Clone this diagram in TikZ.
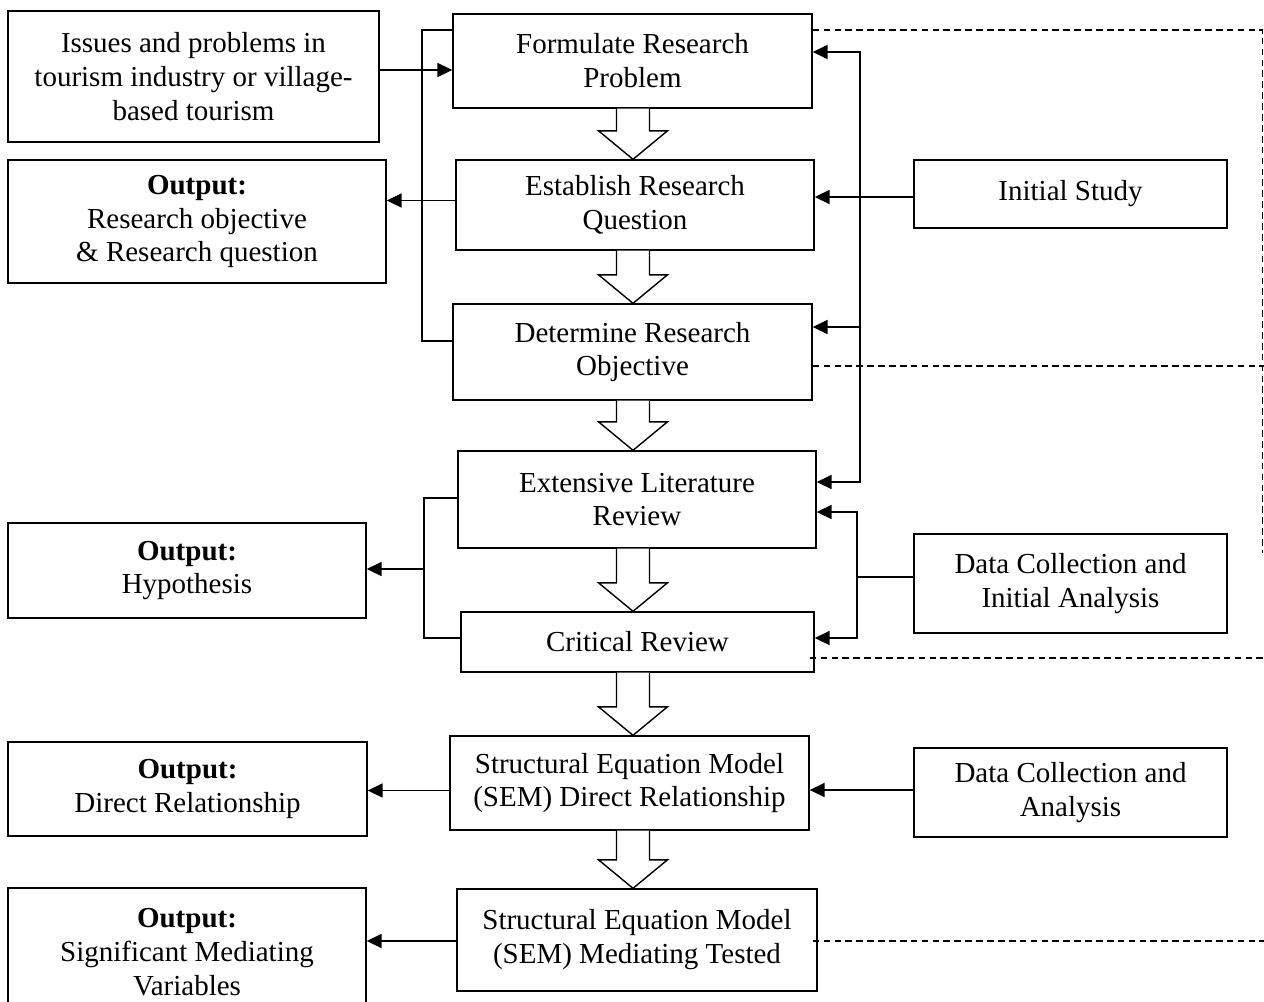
\documentclass[tikz,border=0pt]{standalone}
\usepackage{fontspec}
\setmainfont{Liberation Serif}
\usetikzlibrary{calc,arrows.meta,positioning}
\tikzset{
  box/.style={draw=black, line width=0.8pt, align=center, inner sep=0pt,
    font=\fontsize{16.5}{19.3}\selectfont},
  link/.style={draw=black, line width=0.8pt},
  arr/.style={link, -{Triangle[length=8.5pt,width=8pt]}},
  loop line/.style={draw=black, line width=0.8pt, dash pattern=on 3.8pt off 2.4pt},
  hollow/.style={draw=black, line width=0.8pt, fill=white, line join=miter}
}
\begin{document}
\begin{tikzpicture}
  \useasboundingbox (0,0) rectangle (25.28,-20.02);
  % main column
  \node[box, minimum width=7.18cm, minimum height=1.88cm] (frp) at (12.65,-1.22) {Formulate Research\\Problem};
  \node[box, minimum width=7.16cm, minimum height=1.80cm] (erq) at (12.70,-4.10) {Establish Research\\Question};
  \node[box, minimum width=7.18cm, minimum height=1.92cm] (dro) at (12.65,-7.04) {Determine Research\\Objective};
  \node[box, minimum width=7.16cm, minimum height=1.94cm] (elr) at (12.74,-9.99) {Extensive Literature\\Review};
  \node[box, minimum width=7.06cm, minimum height=1.20cm] (cr) at (12.75,-12.84) {Critical Review};
  \node[box, minimum width=7.18cm, minimum height=1.88cm] (semd) at (12.59,-15.66) {Structural Equation Model\\(SEM) Direct Relationship};
  \node[box, minimum width=7.20cm, minimum height=2.04cm] (semm) at (12.74,-18.80) {Structural Equation Model\\(SEM) Mediating Tested};
  % left column
  \node[box, minimum width=7.42cm, minimum height=2.62cm] (issues) at (3.87,-1.53) {Issues and problems in\\tourism industry or village-\\based tourism};
  \node[box, minimum width=7.56cm, minimum height=2.46cm] (outq) at (3.94,-4.43) {\textbf{Output:}\\Research objective\\\& Research question};
  \node[box, minimum width=7.16cm, minimum height=1.90cm] (outh) at (3.74,-11.41) {\textbf{Output:}\\Hypothesis};
  \node[box, minimum width=7.18cm, minimum height=1.88cm] (outd) at (3.75,-15.78) {\textbf{Output:}\\Direct Relationship};
  \node[box, minimum width=7.16cm, minimum height=2.56cm] (outs) at (3.74,-19.04) {\textbf{Output:}\\Significant Mediating\\Variables};
  % right column
  \node[box, minimum width=6.26cm, minimum height=1.36cm] (init) at (21.41,-3.88) {Initial Study};
  \node[box, minimum width=6.26cm, minimum height=1.98cm] (dcia) at (21.41,-11.67) {Data Collection and\\Initial Analysis};
  \node[box, minimum width=6.26cm, minimum height=1.78cm] (dca) at (21.41,-15.85) {Data Collection and\\Analysis};

  % hollow arrows down the column
  \foreach \a/\b in {frp/erq, erq/dro, dro/elr, elr/cr, cr/semd, semd/semm}{
    \draw[hollow] let \p1=(\a.south), \p2=(\b.north) in
      (12.33cm,\y1) -- (12.33cm,\y2+0.57cm) -- (11.97cm,\y2+0.57cm) -- (12.66cm,\y2)
      -- (13.35cm,\y2+0.57cm) -- (12.99cm,\y2+0.57cm) -- (12.99cm,\y1);
  }

  % left brackets and outputs
  \draw[link] (frp.west |- 0,-0.60) -| (8.44,-6.82) -- (dro.west |- 0,-6.82);
  \draw[arr] (issues.east |- 0,-1.40) -- (frp.west |- 0,-1.40);
  \draw[arr] (erq.west |- 0,-4.01) -- (outq.east |- 0,-4.01);
  \draw[link] (elr.west |- 0,-9.96) -| (8.48,-12.76) -- (cr.west |- 0,-12.76);
  \coordinate (hj) at (8.48,-11.38);
  \draw[arr] (hj) -- (outh.east |- hj);
  \draw[arr] (semd.west |- 0,-15.81) -- (outd.east |- 0,-15.81);
  \draw[arr] (semm.west |- 0,-18.82) -- (outs.east |- 0,-18.82);

  % right feeds
  \coordinate (isj) at (17.20,-3.94);
  \draw[arr] (init.west |- isj) -- (erq.east |- isj);
  \draw[arr] (isj) |- (frp.east |- 0,-1.04);
  \draw[arr] (isj) |- (dro.east |- 0,-6.54);
  \draw[arr] (isj) |- (elr.east |- 0,-9.64);
  \coordinate (daj) at (17.14,-11.54);
  \draw[link] (dcia.west |- daj) -- (daj);
  \draw[arr] (daj) |- (elr.east |- 0,-10.24);
  \draw[arr] (daj) |- (cr.east |- 0,-12.76);
  \draw[arr] (dca.west |- 0,-15.80) -- (semd.east |- 0,-15.80);

  % dashed return lines
  \draw[loop line] (frp.east |- 0,-0.60) -- (25.25,-0.60) -- (25.25,-11.06);
  \draw[loop line] (dro.east |- 0,-7.32) -- (25.28,-7.32);
  \draw[loop line] ([xshift=-0.1cm]cr.east |- 0,-13.16) -- (25.28,-13.16);
  \draw[loop line] ([xshift=-0.1cm]semm.east |- 0,-18.82) -- (25.28,-18.82);
\end{tikzpicture}
\end{document}
